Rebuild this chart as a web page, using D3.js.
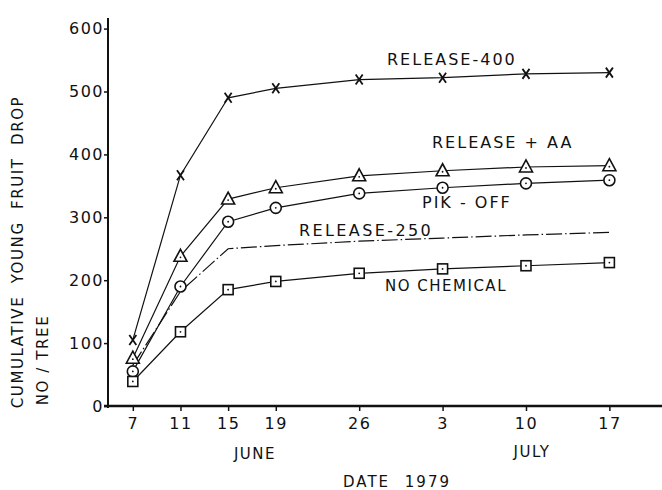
<!DOCTYPE html>
<html><head><meta charset="utf-8">
<script src="https://cdn.jsdelivr.net/npm/d3@7"></script>
<style>
body{margin:0;background:#fff;}
svg{display:block;}
text{font-family:"DejaVu Sans",sans-serif;fill:#111;}
</style></head>
<body><svg id="chart" width="662" height="490"></svg>
<script>
// ---- data ----
const dates = ["1979-06-07","1979-06-11","1979-06-15","1979-06-19","1979-06-26","1979-07-03","1979-07-10","1979-07-17"];
const tickLabels = ["7","11","15","19","26","3","10","17"];
const yTicks = [0,100,200,300,400,500,600];
const release400 = [105,367,490,505,519,522,528,530];
const releaseAA  = [76,238,329,347,366,374,380,382];
const pikOff     = [55,190,293,315,338,347,354,359];
const release250 = [65,182,250,255,262,267,272,276];
const noChemical = [39,118,185,198,211,218,223,228];

const parse = d3.timeParse("%Y-%m-%d");
const dts = dates.map(parse);

const svg = d3.select("#chart");
const x = d3.scaleTime()
  .domain([d3.timeHour.offset(dts[0], -50), d3.timeHour.offset(dts[dts.length-1], 106)])
  .range([108, 662]);
const y = d3.scaleLinear().domain([0, 600]).range([406, 28.6]);

// axes
const xAxis = d3.axisBottom(x).tickValues(dts).tickFormat((d,i)=>tickLabels[i]).tickSize(5).tickSizeOuter(0);
const gx = svg.append("g").attr("transform","translate(0,406)").call(xAxis);
gx.select(".domain").remove();
gx.selectAll(".tick line").attr("stroke","#111").attr("stroke-width",1.5);
gx.selectAll(".tick text").attr("y",9).attr("dy","0.9em").style("font-size","16px").style("letter-spacing","1.5px");
svg.append("line").attr("x1",104).attr("x2",662).attr("y1",406).attr("y2",406).attr("stroke","#111").attr("stroke-width",2.5);

const yAxis = d3.axisLeft(y).tickValues(yTicks).tickFormat(d3.format("d")).tickSize(4).tickSizeOuter(0);
const gy = svg.append("g").attr("transform","translate(108,0)").call(yAxis);
gy.select(".domain").remove();
gy.selectAll(".tick line").attr("stroke","#111").attr("stroke-width",1.5);
gy.selectAll(".tick text").attr("x",-4).style("font-size","16px").style("letter-spacing","1.5px");
svg.append("line").attr("x1",108).attr("x2",108).attr("y1",18).attr("y2",408).attr("stroke","#111").attr("stroke-width",2);

// lines
const line = d3.line().x((d,i)=>x(dts[i])).y(d=>y(d));
function drawLine(vals, dash){
  svg.append("path").datum(vals).attr("d", line).attr("fill","none")
    .attr("stroke","#111").attr("stroke-width",1.2)
    .attr("stroke-dasharray", dash || null);
}
drawLine(release400);
drawLine(releaseAA);
drawLine(pikOff);
drawLine(release250, "16,3,1.5,3");
drawLine(noChemical);

// markers
function markers(vals, kind){
  const g = svg.append("g");
  vals.forEach((v,i)=>{
    const cx = x(dts[i]), cy = y(v);
    if(kind==="x"){
      g.append("path").attr("d",`M${cx-3.5},${cy-5}L${cx+3.5},${cy+5}M${cx+3.5},${cy-5}L${cx-3.5},${cy+5}`)
        .attr("stroke","#111").attr("stroke-width",1.8).attr("fill","none");
    } else if(kind==="tri"){
      g.append("path").attr("d",`M${cx},${cy-7}L${cx+6.5},${cy+5}L${cx-6.5},${cy+5}Z`)
        .attr("stroke","#111").attr("stroke-width",1.6).attr("fill","#fff");
      g.append("circle").attr("cx",cx).attr("cy",cy+1).attr("r",0.9).attr("fill","#111");
    } else if(kind==="circ"){
      g.append("circle").attr("cx",cx).attr("cy",cy).attr("r",5.5)
        .attr("stroke","#111").attr("stroke-width",1.6).attr("fill","#fff");
      g.append("circle").attr("cx",cx).attr("cy",cy).attr("r",0.9).attr("fill","#111");
    } else if(kind==="sq"){
      g.append("rect").attr("x",cx-5).attr("y",cy-5).attr("width",10).attr("height",10)
        .attr("stroke","#111").attr("stroke-width",1.6).attr("fill","#fff");
      g.append("circle").attr("cx",cx).attr("cy",cy).attr("r",0.9).attr("fill","#111");
    }
  });
}
markers(release400,"x");
markers(releaseAA,"tri");
markers(pikOff,"circ");
markers(noChemical,"sq");

// labels
function label(t, xx, yy, size, ls, anchor){
  svg.append("text").attr("x",xx).attr("y",yy).text(t)
    .style("font-size",(size||16)+"px").style("letter-spacing",(ls==null?2:ls)+"px")
    .attr("text-anchor",anchor||"start");
}
label("RELEASE-400", 387, 65);
label("RELEASE + AA", 432, 148);
label("PIK - OFF", 422, 208);
label("RELEASE-250", 299, 236, 16, 2.4);
label("NO CHEMICAL", 385, 291, 15, 1.5);
label("JUNE", 255, 459, 15, 1.5, "middle");
label("JULY", 532, 457, 15, 1.5, "middle");
svg.append("text").attr("x",397).attr("y",487).attr("text-anchor","middle")
  .style("font-size","15px").style("letter-spacing","2px").style("word-spacing","8px").text("DATE 1979");

// y title
svg.append("text").attr("transform","translate(23,252) rotate(-90)").attr("text-anchor","middle")
  .style("font-size","15px").style("letter-spacing","1.6px").style("word-spacing","6px")
  .text("CUMULATIVE YOUNG FRUIT DROP");
svg.append("text").attr("transform","translate(48,360) rotate(-90)").attr("text-anchor","middle")
  .style("font-size","15px").style("letter-spacing","1.6px").text("NO / TREE");
</script></body></html>
